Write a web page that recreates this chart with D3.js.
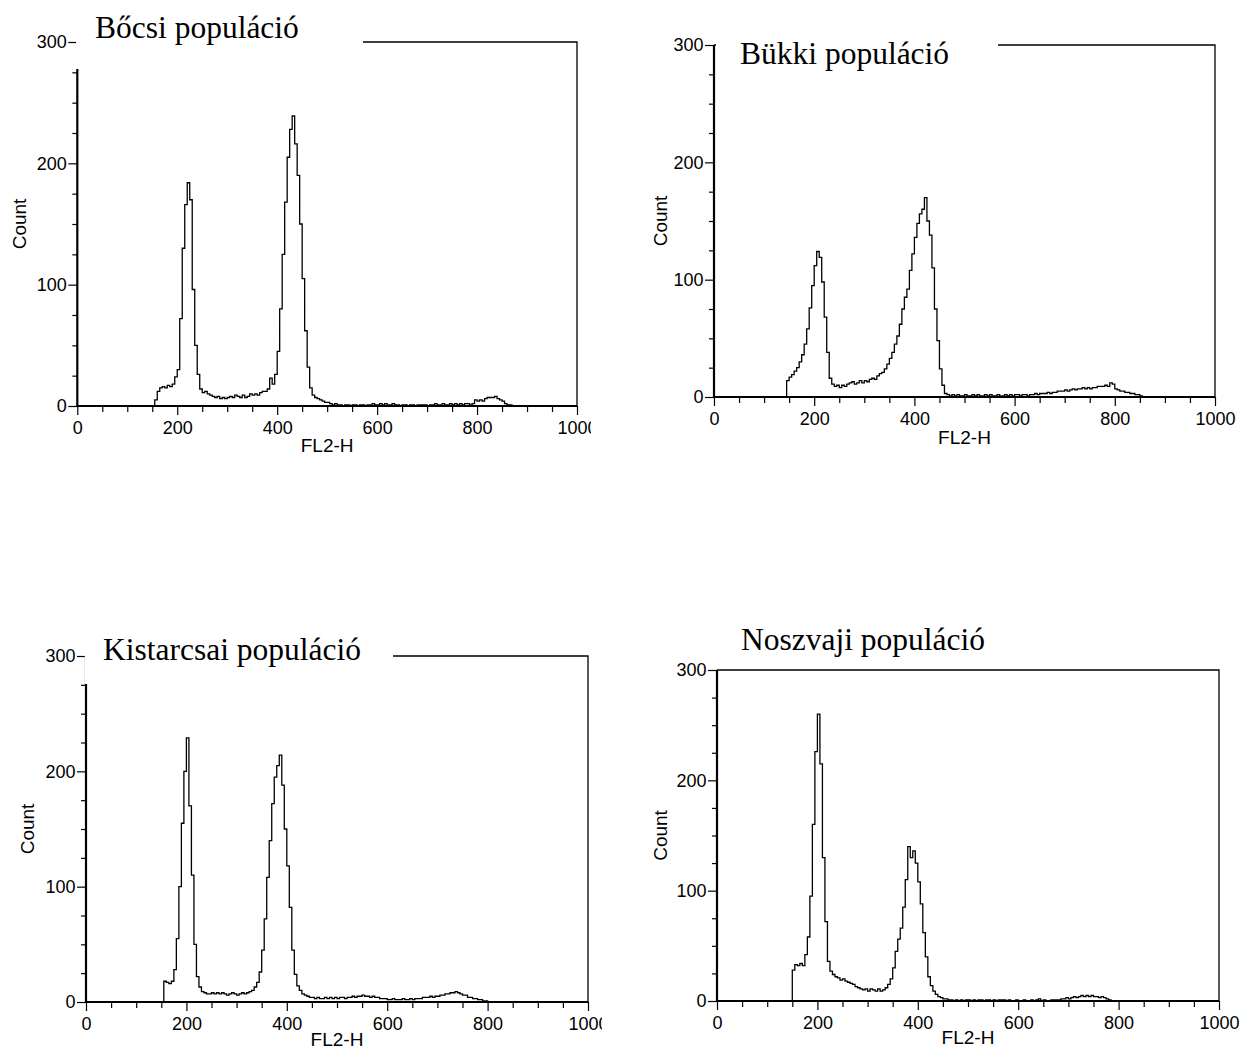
<!DOCTYPE html>
<html>
<head>
<meta charset="utf-8">
<script src="https://cdn.jsdelivr.net/npm/d3@7"></script>
<style>
  body { margin: 0; background: #fff; }
  svg { display: block; }
  .tick text { font-family: "Liberation Sans", Arial, sans-serif; font-size: 18px; fill: #000; }
  .axis-title { font-family: "Liberation Sans", Arial, sans-serif; font-size: 19px; fill: #000; }
  .panel-title { font-family: "Liberation Serif", "Times New Roman", serif; font-size: 31.5px; fill: #000; }
</style>
</head>
<body>
<svg id="chart" width="1243" height="1053"></svg>
<script>
// FL2-H DNA-content histograms of four populations.
// Each series holds event counts in consecutive 5-channel bins, beginning at its start channel.
const binWidth = 5;

const populationNames = ["Bőcsi populáció", "Bükki populáció", "Kistarcsai populáció", "Noszvaji populáció"];

const bocsiStart = 150;
const bocsiCounts = [
  0, 5, 12, 15, 16, 15, 17, 16, 18, 24,
  30, 72, 130, 166, 184, 170, 96, 50, 26, 14,
  11, 12, 10, 9, 8, 7, 8, 6, 7, 6,
  7, 8, 7, 9, 8, 7, 9, 7, 8, 10,
  9, 10, 9, 11, 12, 12, 14, 23, 18, 26,
  45, 80, 125, 168, 205, 228, 239, 216, 190, 150,
  105, 62, 32, 15, 9, 7, 6, 5, 4, 3,
  3, 2, 1, 2, 1, 1, 0, 1, 1, 0,
  1, 1, 0, 1, 1, 0, 1, 1, 2, 1,
  1, 2, 1, 2, 1, 1, 2, 1, 1, 0,
  1, 1, 0, 1, 1, 0, 1, 1, 1, 1,
  0, 1, 1, 2, 1, 1, 2, 1, 1, 2,
  1, 2, 1, 2, 1, 2, 2, 1, 2, 5,
  4, 5, 4, 6, 7, 7, 7, 8, 6, 5,
  4, 2, 1, 1, 0
];

const bukkiStart = 140;
const bukkiCounts = [
  0, 14, 17, 19, 22, 25, 30, 36, 45, 58, 76,
  95, 112, 124, 119, 98, 68, 38, 16, 11, 9,
  10, 8, 10, 9, 11, 12, 13, 11, 12, 14,
  12, 14, 13, 15, 16, 15, 18, 20, 21, 24,
  28, 33, 38, 45, 52, 62, 75, 85, 92, 108,
  122, 136, 148, 156, 160, 170, 150, 138, 110, 75,
  48, 24, 10, 3, 2, 1, 2, 1, 2, 1,
  1, 2, 1, 1, 2, 1, 2, 1, 1, 2,
  1, 2, 1, 1, 2, 1, 1, 2, 1, 2,
  1, 2, 2, 1, 2, 2, 1, 2, 2, 3,
  2, 3, 3, 3, 4, 3, 4, 4, 5, 5,
  5, 6, 5, 6, 7, 6, 7, 7, 8, 7,
  8, 7, 8, 8, 9, 9, 9, 10, 9, 12,
  11, 7, 6, 5, 5, 4, 4, 3, 3, 2,
  2, 1, 0
];

const kistarcsaiStart = 150;
const kistarcsaiCounts = [
  0, 18, 17, 16, 18, 28, 55, 100, 155, 200,
  229, 170, 110, 50, 22, 13, 9, 8, 7, 7,
  8, 7, 8, 7, 8, 7, 6, 7, 8, 7,
  6, 7, 8, 7, 8, 9, 10, 13, 17, 26,
  45, 72, 108, 140, 172, 195, 205, 214, 188, 150,
  118, 82, 45, 24, 14, 10, 7, 6, 5, 4,
  4, 3, 4, 3, 3, 4, 3, 4, 3, 4,
  3, 4, 4, 3, 4, 4, 5, 4, 5, 5,
  6, 5, 5, 4, 5, 4, 4, 3, 3, 3,
  2, 2, 3, 2, 2, 2, 3, 2, 2, 3,
  2, 3, 3, 3, 4, 4, 4, 5, 4, 5,
  5, 6, 6, 7, 7, 8, 8, 9, 8, 7,
  6, 6, 4, 4, 3, 3, 2, 2, 1, 1,
  0
];

const noszvajiStart = 145;
const noszvajiCounts = [
  0, 28, 33, 32, 34, 32, 42, 58, 95, 160, 226,
  260, 215, 130, 72, 36, 27, 24, 22, 21, 19,
  20, 18, 17, 16, 15, 13, 12, 11, 10, 11,
  9, 11, 10, 9, 11, 9, 10, 12, 15, 20,
  30, 45, 56, 66, 85, 110, 140, 130, 136, 125,
  108, 88, 62, 40, 22, 14, 9, 6, 4, 3,
  2, 2, 1, 1, 0, 1, 0, 1, 0, 1,
  1, 0, 1, 0, 1, 1, 0, 1, 1, 0,
  1, 0, 1, 1, 1, 0, 1, 0, 0, 1,
  0, 0, 1, 0, 0, 1, 0, 1, 2, 0,
  1, 0, 0, 1, 1, 1, 1, 2, 2, 3,
  2, 3, 4, 3, 4, 5, 4, 5, 4, 5,
  4, 4, 3, 4, 3, 2, 1, 0
];

// Axis ticks shared by all four plots
const xMajorTicks = [0, 200, 400, 600, 800, 1000];
const xMinorStep = 50;
const yMajorTicks = [0, 100, 200, 300];
const yMinorStep = 25;
const xDomain = [0, 1000];
const yDomain = [0, 300];
const xAxisTitle = "FL2-H";
const yAxisTitle = "Count";

// Placement of each plot on the page
const layouts = [
  { left: 77.3, right: 577, top: 42, bottom: 406, titleX: 95, titleY: 38,
    mask: { x0: 76, x1: 363, y0: 0, y1: 69 }, clipRight: 591, countX: 19, fl2Y: 452 },
  { left: 714, right: 1215, top: 45, bottom: 397, titleX: 740, titleY: 64,
    mask: { x0: 716, x1: 998, y0: 28, y1: 72 }, clipRight: null, countX: 660, fl2Y: 444 },
  { left: 86, right: 588, top: 656, bottom: 1002, titleX: 103, titleY: 660,
    mask: { x0: 84.8, x1: 393, y0: 625, y1: 684 }, clipRight: 602, countX: 27, fl2Y: 1046 },
  { left: 717, right: 1219, top: 670, bottom: 1001, titleX: 741, titleY: 650,
    mask: null, clipRight: null, countX: 660, fl2Y: 1044 }
];

const series = [
  { start: bocsiStart, counts: bocsiCounts },
  { start: bukkiStart, counts: bukkiCounts },
  { start: kistarcsaiStart, counts: kistarcsaiCounts },
  { start: noszvajiStart, counts: noszvajiCounts }
];

const svg = d3.select("#chart");
const defs = svg.append("defs");

series.forEach((s, i) => {
  const L = layouts[i];
  const x = d3.scaleLinear().domain(xDomain).range([L.left, L.right]);
  const y = d3.scaleLinear().domain(yDomain).range([L.bottom, L.top]);

  const g = svg.append("g").attr("class", "panel");
  if (L.clipRight !== null) {
    defs.append("clipPath").attr("id", "clip" + i)
      .append("rect").attr("x", 0).attr("y", 0)
      .attr("width", L.clipRight).attr("height", 1053);
    g.attr("clip-path", `url(#clip${i})`);
  }

  // y axis: labelled major ticks, short minor ticks every 25 counts
  const yAxis = d3.axisLeft(y)
    .tickValues(d3.range(yDomain[0], yDomain[1] + 1, yMinorStep))
    .tickSize(9)
    .tickPadding(1.5)
    .tickFormat(d => yMajorTicks.includes(d) ? d : "");
  const gy = g.append("g").attr("transform", `translate(${L.left},0)`).call(yAxis);
  gy.select(".domain").remove();
  gy.selectAll(".tick line").attr("stroke", "#000").attr("stroke-width", 1.2)
    .attr("x2", d => yMajorTicks.includes(d) ? -9 : -5);

  // x axis: labelled major ticks, minor ticks every 50 channels
  const xAxis = d3.axisBottom(x)
    .tickValues(d3.range(xDomain[0], xDomain[1] + 1, xMinorStep))
    .tickSize(9)
    .tickPadding(6)
    .tickFormat(d => xMajorTicks.includes(d) ? d : "");
  const gx = g.append("g").attr("transform", `translate(0,${L.bottom})`).call(xAxis);
  gx.select(".domain").remove();
  gx.selectAll(".tick line").attr("stroke", "#000").attr("stroke-width", 1.2)
    .attr("y2", d => xMajorTicks.includes(d) ? 9 : 6);

  // plot frame: thin top and right edges, heavy axis lines
  g.append("path")
    .attr("d", `M${L.left},${L.top}H${L.right}V${L.bottom}`)
    .attr("fill", "none").attr("stroke", "#000").attr("stroke-width", 1.3);
  g.append("path")
    .attr("d", `M${L.left},${L.top}V${L.bottom}H${L.right}`)
    .attr("fill", "none").attr("stroke", "#000").attr("stroke-width", 2.2);

  // histogram trace
  const pts = s.counts.map((c, k) => [s.start + k * binWidth, c]);
  const line = d3.line()
    .x(d => x(d[0]))
    .y(d => y(d[1]))
    .curve(d3.curveStepAfter);
  g.append("path")
    .datum(pts)
    .attr("d", line)
    .attr("fill", "none")
    .attr("stroke", "#000")
    .attr("stroke-width", 1.3)
    .attr("stroke-linejoin", "miter");

  // axis titles
  g.append("text").attr("class", "axis-title")
    .attr("text-anchor", "middle")
    .attr("x", (L.left + L.right) / 2)
    .attr("y", L.fl2Y)
    .text(xAxisTitle);
  g.append("text").attr("class", "axis-title")
    .attr("text-anchor", "middle")
    .attr("transform", `translate(${L.countX},${(L.top + L.bottom) / 2}) rotate(-90)`)
    .attr("dy", "0.35em")
    .text(yAxisTitle);

  // white caption box over the frame, then the population name
  if (L.mask) {
    g.append("rect")
      .attr("x", L.mask.x0).attr("y", L.mask.y0)
      .attr("width", L.mask.x1 - L.mask.x0).attr("height", L.mask.y1 - L.mask.y0)
      .attr("fill", "#fff");
  }
  g.append("text").attr("class", "panel-title")
    .attr("x", L.titleX).attr("y", L.titleY)
    .text(populationNames[i]);
});
</script>
</body>
</html>
